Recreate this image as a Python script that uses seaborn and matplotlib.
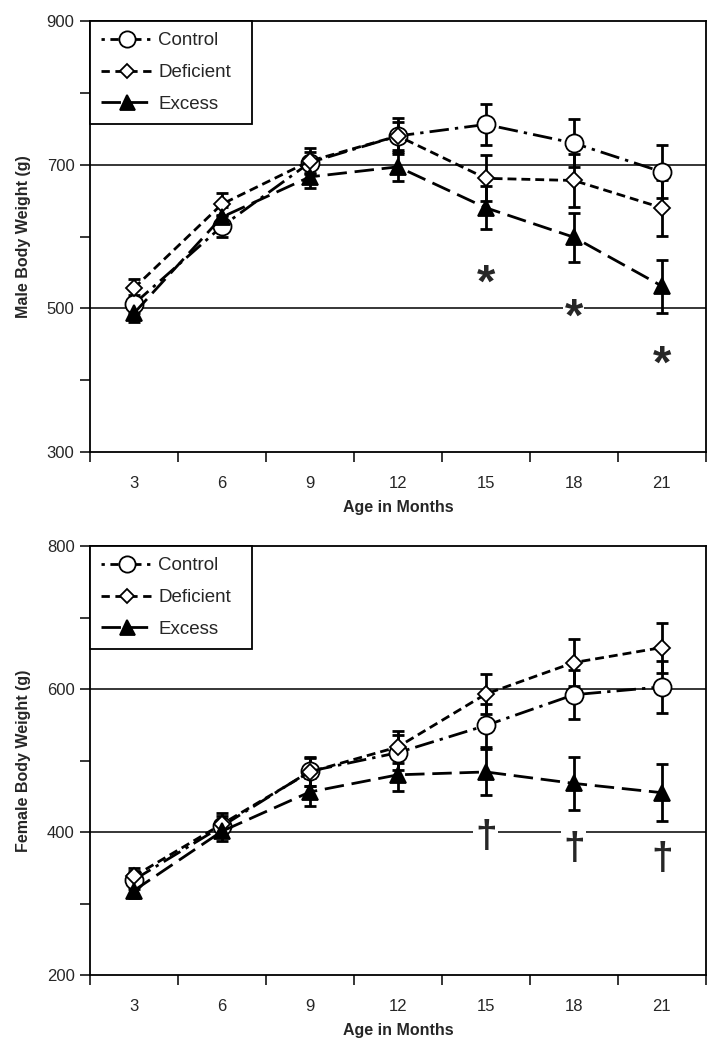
import numpy as np
import pandas as pd
import matplotlib
matplotlib.use("Agg")
import matplotlib.pyplot as plt
from matplotlib.lines import Line2D
import seaborn as sns

months = [3, 6, 9, 12, 15, 18, 21]
groups = ["Control", "Deficient", "Excess"]

male_control = [506, 614, 703, 740, 756, 730, 690]
male_deficient = [528, 645, 705, 740, 681, 678, 640]
male_excess = [493, 627, 683, 697, 640, 599, 531]
male_control_se = [12, 14, 15, 20, 29, 33, 37]
male_deficient_se = [13, 15, 18, 25, 32, 37, 39]
male_excess_se = [12, 14, 15, 20, 30, 34, 37]

female_control = [333, 408, 485, 511, 549, 592, 603]
female_deficient = [338, 411, 484, 519, 593, 637, 658]
female_excess = [318, 401, 456, 480, 484, 468, 455]
female_control_se = [12, 15, 20, 24, 30, 34, 36]
female_deficient_se = [12, 15, 20, 22, 28, 33, 35]
female_excess_se = [10, 14, 19, 22, 32, 37, 40]

male_sig_months = [15, 18, 21]
male_sig_y = [547, 499, 434]
female_sig_months = [15, 18, 21]
female_sig_y = [393, 376, 362]

styles = {
    "Control": dict(marker="o", ms=13, mfc="white", dashes=(7, 2.2, 1.2, 2.2),
                    leg_dashes=(1.2, 2.0, 3.0, 2.0)),
    "Deficient": dict(marker="D", ms=8, mfc="white", dashes=(3.2, 1.8),
                      leg_dashes=(3.0, 2.0)),
    "Excess": dict(marker="^", ms=12, mfc="black", dashes=(7, 2.8),
                   leg_dashes=(7, 2.8)),
}

sns.set_style("ticks")
plt.rcParams["font.family"] = ["Liberation Sans", "DejaVu Sans"]

fig = plt.figure(figsize=(7.13, 10.5), dpi=100)
ax1 = fig.add_axes([0.126, 0.5695, 0.864, 0.4105])
ax2 = fig.add_axes([0.126, 0.0714, 0.864, 0.4086])


def draw_panel(ax, vals, ses, ylim, ylabel, sig_m, sig_y, sig_sym, sig_size, sig_off):
    handles = []
    for g in groups:
        df = pd.DataFrame({"month": months, "weight": vals[g]})
        st = styles[g]
        ax.errorbar(months, vals[g], yerr=ses[g], fmt="none", ecolor="black",
                    elinewidth=2, capsize=4, capthick=2, zorder=2)
        sns.lineplot(data=df, x="month", y="weight", ax=ax, color="black",
                     lw=2, marker=st["marker"], markersize=st["ms"],
                     markerfacecolor=st["mfc"], markeredgecolor="black",
                     markeredgewidth=1.3, linestyle=(0, st["dashes"]),
                     zorder=3)
        handles.append(Line2D([], [], color="black", lw=2, marker=st["marker"],
                              markersize=st["ms"] * 0.9, markerfacecolor=st["mfc"],
                              markeredgecolor="black", markeredgewidth=1.3,
                              linestyle=(0, st["leg_dashes"]), label=g))
    ymin, ymax = ylim
    ax.set_xlim(1.5, 22.5)
    ax.set_ylim(ymin, ymax)
    ax.set_xticks(np.arange(1.5, 22.6, 3))
    ax.set_xticklabels([])
    ax.set_xticks(months, minor=True)
    ax.set_xticklabels([str(m) for m in months], minor=True, fontsize=12)
    ax.tick_params(axis="x", which="minor", length=0, pad=17)
    ax.tick_params(axis="x", which="major", length=7, width=1.3, direction="out")
    ax.set_yticks(np.arange(ymin, ymax + 1, 100))
    ax.set_yticklabels([str(v) if (v - ymin) % 200 == 0 else "" for v in range(ymin, ymax + 1, 100)],
                       fontsize=12)
    ax.tick_params(axis="y", length=7, width=1.3, direction="out", pad=4)
    gridvals = list(range(ymin + 200, ymax, 200))
    for v in gridvals:
        ax.axhline(v, color="black", lw=1.1, zorder=1)
    for s in ax.spines.values():
        s.set_visible(True)
        s.set_linewidth(1.3)
        s.set_color("black")
    ax.set_xlabel("Age in Months", fontsize=11.5, fontweight="bold", labelpad=7)
    ax.set_ylabel(ylabel, fontsize=11.5, fontweight="bold", labelpad=11)
    for m, y in zip(sig_m, sig_y):
        on_line = any(abs(y - gv) < 25 for gv in gridvals)
        bbox = dict(facecolor="white", edgecolor="none", pad=1) if on_line else None
        ax.annotate(sig_sym, (m, y), xytext=(0, sig_off), textcoords="offset points",
                    ha="center", va="center", fontsize=sig_size,
                    fontweight="bold", zorder=1.5, bbox=bbox)
    leg = ax.legend(handles=handles, loc="upper left", frameon=True, fancybox=False,
                    fontsize=13.5, handlelength=2.8, borderpad=0.6, labelspacing=0.78,
                    borderaxespad=0, handletextpad=0.25,
                    bbox_to_anchor=(0, 0, 0.263, 1.0), mode="expand")
    leg.get_frame().set_edgecolor("black")
    leg.get_frame().set_linewidth(1.3)
    leg.get_frame().set_alpha(1)
    leg.set_zorder(5)


draw_panel(ax1,
           {"Control": male_control, "Deficient": male_deficient, "Excess": male_excess},
           {"Control": male_control_se, "Deficient": male_deficient_se, "Excess": male_excess_se},
           (300, 900), "Male Body Weight (g)", male_sig_months, male_sig_y, "*", 34, -7)
draw_panel(ax2,
           {"Control": female_control, "Deficient": female_deficient, "Excess": female_excess},
           {"Control": female_control_se, "Deficient": female_deficient_se, "Excess": female_excess_se},
           (200, 800), "Female Body Weight (g)", female_sig_months, female_sig_y, "\u2020", 28, 0)

fig.savefig("out.png", dpi=100, facecolor="white")
